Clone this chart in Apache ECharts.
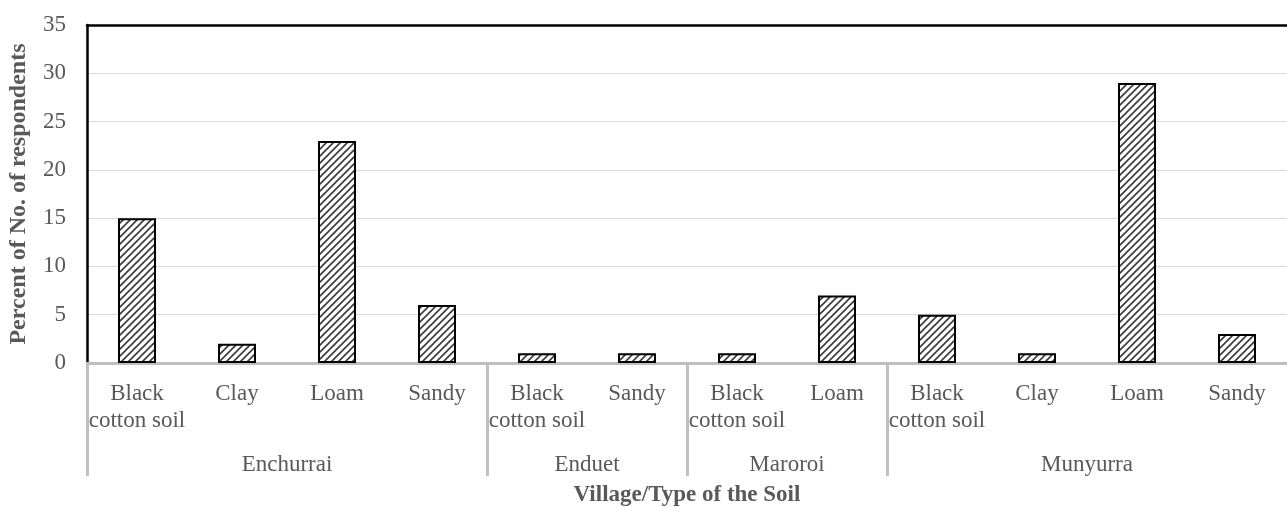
<!DOCTYPE html>
<html>
<head>
<meta charset="utf-8">
<script src="https://cdn.jsdelivr.net/npm/echarts@6/dist/echarts.min.js"></script>
<style>
  html, body { margin: 0; padding: 0; background: #fff; }
  #chart { width: 1287px; height: 507px; }
</style>
</head>
<body>
<div id="chart"></div>
<script>
// soil type per bar, village groups and their sizes
var soils = ['Black cotton soil', 'Clay', 'Loam', 'Sandy',
             'Black cotton soil', 'Sandy',
             'Black cotton soil', 'Loam',
             'Black cotton soil', 'Clay', 'Loam', 'Sandy'];
var villages = ['Enchurrai', 'Enduet', 'Maroroi', 'Munyurra'];
var villageSizes = [4, 2, 2, 4];
var percents = [15, 2, 23, 6, 1, 1, 1, 7, 5, 1, 29, 3];
var yTicks = [0, 5, 10, 15, 20, 25, 30, 35];

var font = "'Times New Roman', 'Liberation Serif', serif";
var grey = '#595959';

// group boundaries and centres on a 0..n value scale
var bounds = [0], centres = [];
villageSizes.forEach(function (n, i) {
    var start = bounds[i];
    bounds.push(start + n);
    centres.push(start + n / 2);
});

// hatch fill like the excel pattern
function hatch() {
    var s = 7;
    var c = document.createElement('canvas');
    c.width = s; c.height = s;
    var ctx = c.getContext('2d');
    ctx.fillStyle = '#fff';
    ctx.fillRect(0, 0, s, s);
    ctx.strokeStyle = '#3a3a3a';
    ctx.lineWidth = 1.6;
    ctx.beginPath();
    ctx.moveTo(0, s); ctx.lineTo(s, 0);
    ctx.moveTo(-1, 1); ctx.lineTo(1, -1);
    ctx.moveTo(s - 1, s + 1); ctx.lineTo(s + 1, s - 1);
    ctx.stroke();
    return c;
}

var chart = echarts.init(document.getElementById('chart'));

var option = {
    animation: false,
    grid: { left: 87, right: 0, top: 25, bottom: 144, outerBoundsMode: 'none', containLabel: false },
    xAxis: [
        {
            type: 'category',
            data: soils,
            position: 'bottom',
            axisLine: { lineStyle: { color: '#bfbfbf', width: 3 } },
            axisTick: { show: false },
            axisLabel: {
                interval: 0,
                margin: 17,
                color: grey,
                fontFamily: font,
                fontSize: 23,
                lineHeight: 27,
                formatter: function (v) { return v.replace('Black ', 'Black\n'); }
            }
        },
        {
            type: 'value',
            min: 0,
            max: bounds[bounds.length - 1],
            position: 'bottom',
            axisLine: { show: false },
            splitLine: { show: false },
            axisTick: {
                show: true,
                customValues: bounds.slice(0, -1),
                length: 113,
                lineStyle: { color: '#bfbfbf', width: 3 }
            },
            axisLabel: {
                customValues: centres,
                margin: 90,
                color: grey,
                fontFamily: font,
                fontSize: 23,
                formatter: function (v) { return villages[centres.indexOf(v)] || ''; }
            },
            name: 'Village/Type of the Soil',
            nameLocation: 'middle',
            nameGap: 121,
            nameTextStyle: { color: grey, fontFamily: font, fontSize: 23, fontWeight: 'bold' }
        },
        {
            type: 'category',
            data: soils,
            position: 'top',
            axisLine: { lineStyle: { color: '#000', width: 2.5 } },
            axisTick: { show: false },
            axisLabel: { show: false }
        }
    ],
    yAxis: {
        type: 'value',
        min: yTicks[0],
        max: yTicks[yTicks.length - 1],
        interval: 5,
        axisLine: { show: true, lineStyle: { color: '#000', width: 2.5 } },
        axisTick: { show: false },
        splitLine: { lineStyle: { color: '#d9d9d9', width: 1 } },
        axisLabel: { margin: 21, color: grey, fontFamily: font, fontSize: 23 },
        name: 'Percent of No. of respondents',
        nameLocation: 'middle',
        nameGap: 56,
        nameTextStyle: { color: grey, fontFamily: font, fontSize: 24, fontWeight: 'bold' }
    },
    series: [
        {
            type: 'bar',
            xAxisIndex: 0,
            data: percents,
            barWidth: 38,
            itemStyle: {
                color: { image: hatch(), repeat: 'repeat' },
                borderColor: '#000',
                borderWidth: 2
            }
        }
    ]
};
chart.setOption(option);
</script>
</body>
</html>
